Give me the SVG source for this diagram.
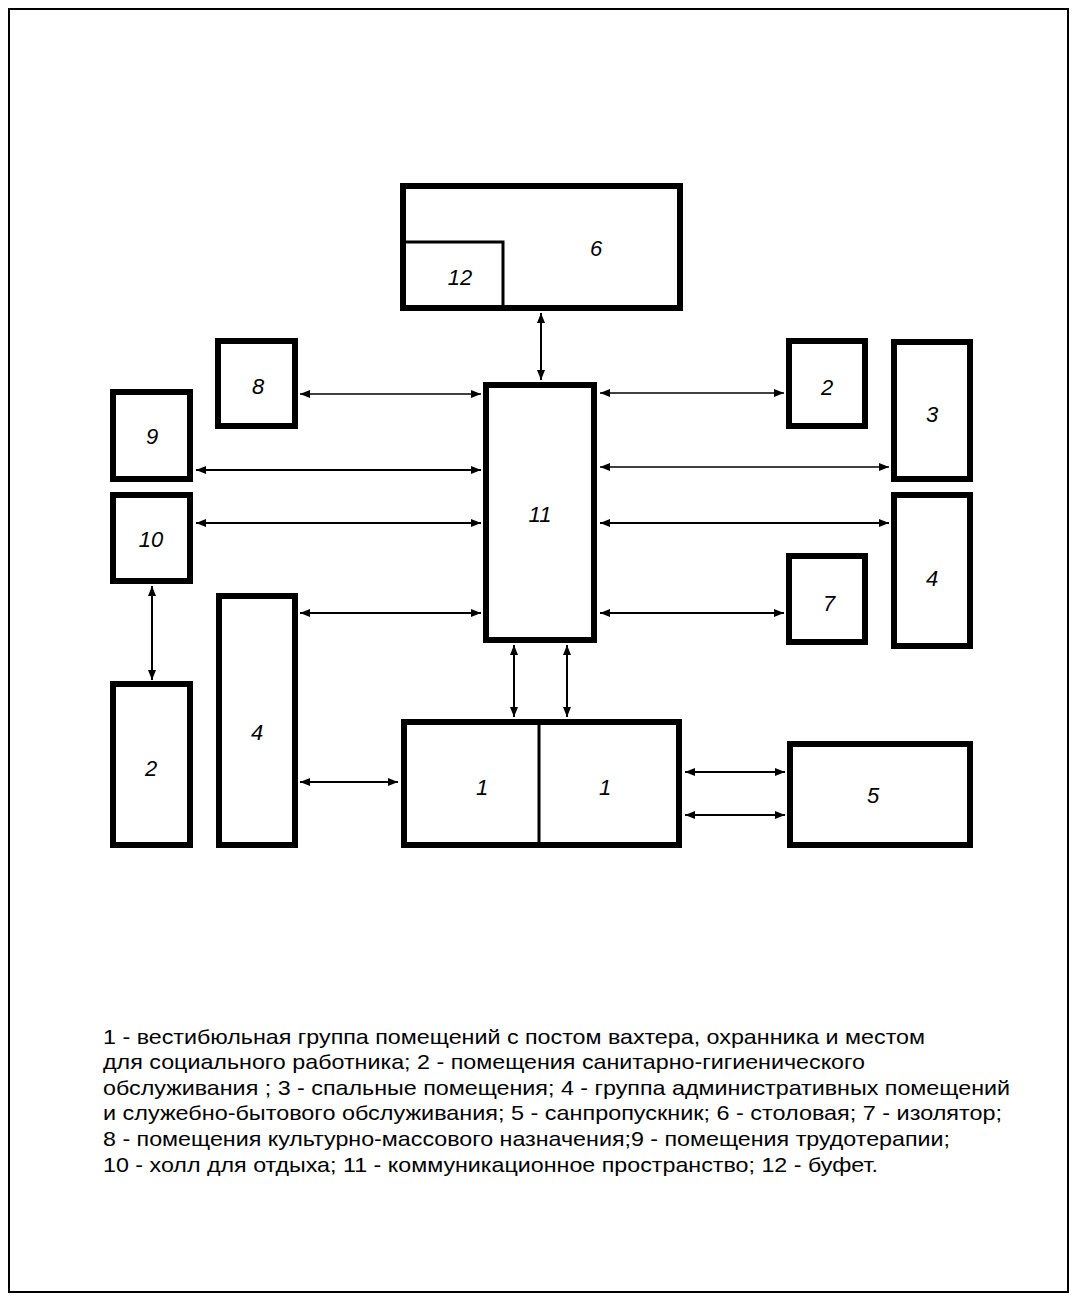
<svg xmlns="http://www.w3.org/2000/svg" width="1073" height="1299" viewBox="0 0 1073 1299">
<style>
.box{fill:#fff;stroke:#000;stroke-width:6}
.thin{stroke:#000;stroke-width:3;fill:none}
.lbl{font-family:"Liberation Sans",Arial,sans-serif;font-size:22px;font-style:italic;text-anchor:middle;fill:#000}
.leg{font-family:"Liberation Sans",Arial,sans-serif;font-size:21px;fill:#000}
.con line{stroke:#000;stroke-width:2;marker-start:url(#ah);marker-end:url(#ah)}
</style>
<defs>
<marker id="ah" markerUnits="userSpaceOnUse" markerWidth="11" markerHeight="9" refX="10" refY="4" orient="auto-start-reverse"><path d="M0,0 L10,4 L0,8 z" fill="#000"/></marker>
</defs>
<rect x="0" y="0" width="1073" height="1299" fill="#fff"/>
<rect x="9" y="9" width="1059" height="1283" fill="none" stroke="#000" stroke-width="2"/>
<g id="n6"><rect class="box" x="403" y="186" width="277" height="122"/><text class="lbl" x="596" y="256">6</text></g>
<g id="n12"><path class="thin" d="M403,242 H503 V308"/><text class="lbl" x="460" y="285">12</text></g>
<g id="n11"><rect class="box" x="486" y="385" width="108" height="255"/><text class="lbl" x="540" y="522">11</text></g>
<g id="n8"><rect class="box" x="218" y="341" width="77" height="85"/><text class="lbl" x="258" y="394">8</text></g>
<g id="n9"><rect class="box" x="113" y="392" width="77" height="87"/><text class="lbl" x="152" y="444">9</text></g>
<g id="n10"><rect class="box" x="113" y="495" width="77" height="86"/><text class="lbl" x="151" y="547">10</text></g>
<g id="n2r"><rect class="box" x="789" y="341" width="76" height="85"/><text class="lbl" x="827" y="395">2</text></g>
<g id="n3"><rect class="box" x="894" y="342" width="76" height="137"/><text class="lbl" x="932" y="422">3</text></g>
<g id="n4r"><rect class="box" x="894" y="495" width="76" height="151"/><text class="lbl" x="932" y="586">4</text></g>
<g id="n7"><rect class="box" x="789" y="556" width="76" height="86"/><text class="lbl" x="829" y="611">7</text></g>
<g id="n2l"><rect class="box" x="113" y="684" width="77" height="161"/><text class="lbl" x="151" y="776">2</text></g>
<g id="n4l"><rect class="box" x="219" y="596" width="76" height="249"/><text class="lbl" x="257" y="740">4</text></g>
<g id="n1"><rect class="box" x="404" y="722" width="275" height="123"/><line class="thin" x1="539" y1="722" x2="539" y2="845"/><text class="lbl" x="482" y="795">1</text><text class="lbl" x="605" y="795">1</text></g>
<g id="n5"><rect class="box" x="790" y="744" width="180" height="101"/><text class="lbl" x="873" y="803">5</text></g>
<g id="connectors" class="con">
<line x1="541" y1="313" x2="541" y2="380"/>
<line x1="300" y1="394" x2="481" y2="394" style="stroke-width:1.5"/>
<line x1="196" y1="470" x2="481" y2="470"/>
<line x1="196" y1="523" x2="481" y2="523"/>
<line x1="600" y1="393" x2="784" y2="393" style="stroke-width:1.5"/>
<line x1="600" y1="467" x2="889" y2="467" style="stroke-width:1.5"/>
<line x1="600" y1="523" x2="889" y2="523"/>
<line x1="600" y1="613" x2="784" y2="613"/>
<line x1="300" y1="613" x2="481" y2="613"/>
<line x1="152" y1="586" x2="152" y2="680"/>
<line x1="514" y1="645" x2="514" y2="717"/>
<line x1="567" y1="645" x2="567" y2="717"/>
<line x1="300" y1="782" x2="398" y2="782"/>
<line x1="685" y1="772" x2="785" y2="772"/>
<line x1="685" y1="815" x2="785" y2="815"/>
</g>
<g id="legend">
<text class="leg" x="103" y="1044" textLength="822" lengthAdjust="spacingAndGlyphs">1 - вестибюльная группа помещений с постом вахтера, охранника и местом</text>
<text class="leg" x="103" y="1069" textLength="762" lengthAdjust="spacingAndGlyphs">для социального работника; 2 - помещения санитарно-гигиенического</text>
<text class="leg" x="103" y="1095" textLength="907" lengthAdjust="spacingAndGlyphs">обслуживания ; 3 - спальные помещения; 4 - группа административных помещений</text>
<text class="leg" x="103" y="1120" textLength="899" lengthAdjust="spacingAndGlyphs">и служебно-бытового обслуживания; 5 - санпропускник; 6 - столовая; 7 - изолятор;</text>
<text class="leg" x="103" y="1146" textLength="847" lengthAdjust="spacingAndGlyphs">8 - помещения культурно-массового назначения;9 - помещения трудотерапии;</text>
<text class="leg" x="103" y="1172" textLength="775" lengthAdjust="spacingAndGlyphs">10 - холл для отдыха; 11 - коммуникационное пространство; 12 - буфет.</text>
</g>
</svg>
